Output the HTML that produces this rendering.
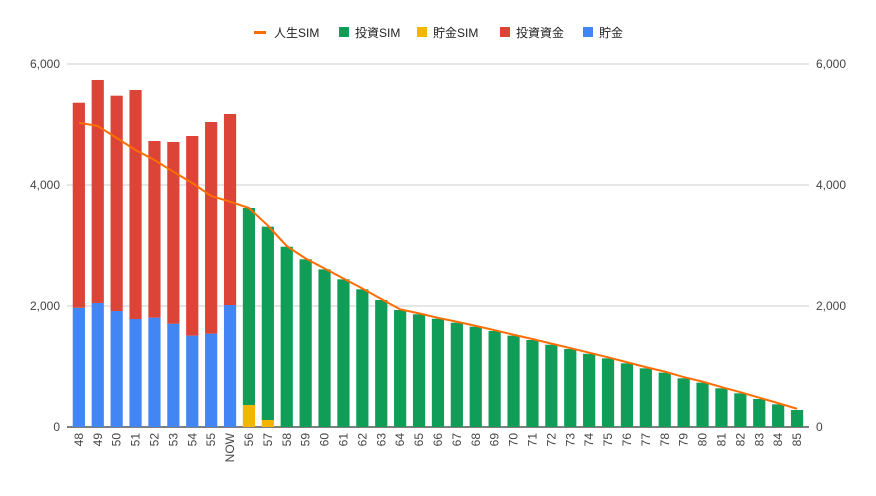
<!DOCTYPE html>
<html><head><meta charset="utf-8"><style>
body{margin:0;background:#fff;font-family:"Liberation Sans","Noto Sans CJK JP",sans-serif;}
svg text{font-family:"Liberation Sans","Noto Sans CJK JP",sans-serif;}
</style></head><body>
<svg id="chart" width="876" height="491" xmlns="http://www.w3.org/2000/svg">
<g id="legend" font-size="12" fill="#222">
 <g><rect x="254" y="31" width="12" height="3" fill="#ff6d00"/><text x="274" y="37">人生SIM</text></g>
 <g><rect x="339" y="27" width="10" height="10" fill="#0f9d58"/><text x="355" y="37">投資SIM</text></g>
 <g><rect x="417" y="27" width="10" height="10" fill="#f4b400"/><text x="433" y="37">貯金SIM</text></g>
 <g><rect x="500" y="27" width="10" height="10" fill="#db4437"/><text x="516" y="37">投資資金</text></g>
 <g><rect x="583" y="27" width="10" height="10" fill="#4285f4"/><text x="599" y="37">貯金</text></g>
</g>
<g id="grid"></g><g id="bars"></g><g id="line"></g><g id="xlabels"></g>
</svg>
<script>
const categories=["48","49","50","51","52","53","54","55","NOW","56","57","58","59","60","61","62","63","64","65","66","67","68","69","70","71","72","73","74","75","76","77","78","79","80","81","82","83","84","85"];
const savings=[1972,2050,1917,1785,1807,1708,1510,1543,2016,0,0,0,0,0,0,0,0,0,0,0,0,0,0,0,0,0,0,0,0,0,0,0,0,0,0,0,0,0,0];
const investFunds=[3388,3686,3559,3785,2920,3003,3300,3498,3158,0,0,0,0,0,0,0,0,0,0,0,0,0,0,0,0,0,0,0,0,0,0,0,0,0,0,0,0,0,0];
const savingsSim=[0,0,0,0,0,0,0,0,0,364,116,0,0,0,0,0,0,0,0,0,0,0,0,0,0,0,0,0,0,0,0,0,0,0,0,0,0,0,0];
const investSim=[0,0,0,0,0,0,0,0,0,3256,3195,2980,2772,2606,2441,2276,2099,1934,1863,1790,1724,1658,1587,1510,1438,1360,1290,1210,1135,1052,970,898,805,733,640,557,463,375,281];
const lifeSim=[5030,4975,4777,4578,4413,4220,4033,3818,3724,3620,3330,2990,2785,2620,2455,2290,2115,1945,1878,1805,1740,1672,1600,1525,1455,1378,1305,1228,1152,1070,990,915,825,750,660,575,485,395,300];
const yTicks=[0,2000,4000,6000];
const yTickLabels=["0","2,000","4,000","6,000"];
const NS="http://www.w3.org/2000/svg";
const X0=69.4,BAND=18.9,Y0=427,YMAX=6000,H=363;
const x=i=>X0+BAND*(i+0.5);
const y=v=>Y0-v/YMAX*H;
function mk(tag,attrs,parent){const e=document.createElementNS(NS,tag);for(const k in attrs)e.setAttribute(k,attrs[k]);parent.appendChild(e);return e;}
const grid=document.getElementById('grid');
yTicks.forEach((t,i)=>{
 const l=mk('line',{x1:67,x2:809,y1:y(t),y2:y(t),stroke:t===0?'#333':'#ccc','stroke-width':t===0?1.3:1},grid);
 
 
 const a=mk('text',{x:60,y:y(t)+4,'text-anchor':'end','font-size':12,fill:'#444'},grid);a.textContent=yTickLabels[i];
 
 
 const b=mk('text',{x:816,y:y(t)+4,'font-size':12,fill:'#444'},grid);b.textContent=yTickLabels[i];
 
 
});
const bars=document.getElementById('bars');
const series=[[savings,'#4285f4','bar-savings'],[investFunds,'#db4437','bar-invest-funds'],[savingsSim,'#f4b400','bar-savings-sim'],[investSim,'#0f9d58','bar-invest-sim']];
categories.forEach((c,i)=>{
 let acc=0;
 series.forEach(([arr,col,nm])=>{
  const v=arr[i];if(!v)return;
  const r=mk('rect',{x:x(i)-6.1,y:y(acc+v),width:12.2,height:y(acc)-y(acc+v),fill:col},bars);
  
  
  acc+=v;
 });
 const xl=document.getElementById('xlabels');
 const t=mk('text',{transform:`translate(${x(i)+4},433) rotate(-90)`,'text-anchor':'end','font-size':12,fill:'#444'},xl);
 t.textContent=c;
 
 
});
const p=mk('polyline',{points:lifeSim.map((v,i)=>x(i)+','+y(v)).join(' '),fill:'none',stroke:'#ff6d00','stroke-width':2},document.getElementById('line'));


</script>
</body></html>
